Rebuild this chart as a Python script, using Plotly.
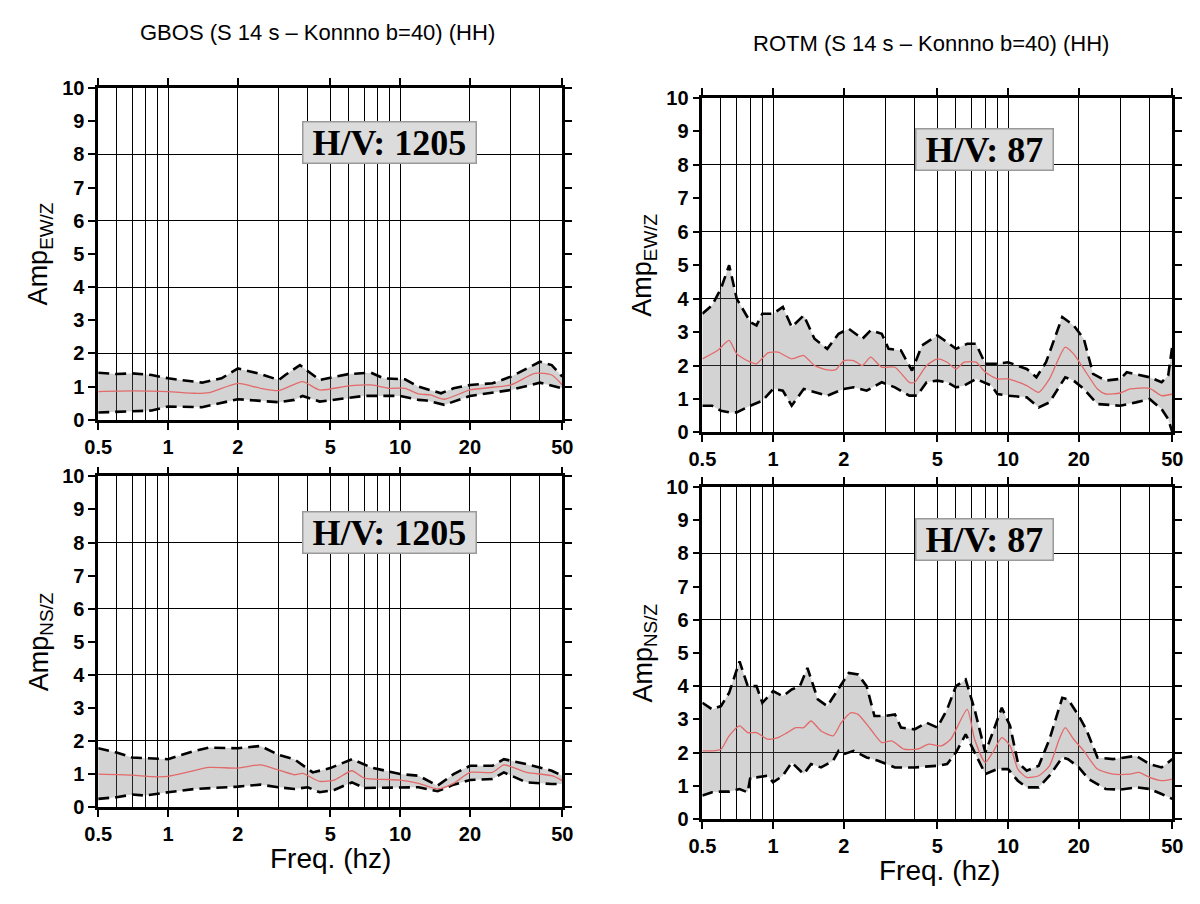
import math
import plotly.graph_objects as go

# ---------------- data ----------------
# GBOS EW/Z
gbos_ew_f_mean = [0.5, 0.7, 1.0, 1.3, 1.5, 2.0, 2.5, 3.0, 3.8, 4.5, 6.0, 7.5, 9.0, 10.5, 12.0, 13.5, 15.5, 20.0, 30.0, 38.0, 45.0, 50.0]
gbos_ew_mean = [0.85, 0.87, 0.85, 0.80, 0.82, 1.10, 0.95, 0.88, 1.15, 0.90, 1.02, 1.05, 0.95, 0.95, 0.78, 0.75, 0.62, 0.90, 1.05, 1.40, 1.35, 1.05]
gbos_ew_f_up = [0.5, 0.6, 0.7, 0.85, 1.0, 1.4, 1.7, 2.0, 2.5, 3.0, 3.2, 3.7, 4.5, 6.0, 7.5, 8.5, 10.5, 12.0, 15.0, 17.0, 20.0, 25.0, 30.0, 40.0, 45.0, 50.0]
gbos_ew_up = [1.42, 1.38, 1.40, 1.35, 1.25, 1.12, 1.25, 1.55, 1.38, 1.20, 1.35, 1.65, 1.20, 1.38, 1.42, 1.25, 1.22, 1.00, 0.80, 0.95, 1.05, 1.10, 1.30, 1.75, 1.65, 1.30]
gbos_ew_f_lo = [0.5, 0.7, 0.85, 1.0, 1.4, 2.0, 2.5, 3.0, 3.5, 3.8, 4.5, 6.0, 7.0, 10.0, 12.0, 13.0, 15.5, 20.0, 30.0, 40.0, 50.0]
gbos_ew_lo = [0.22, 0.25, 0.28, 0.40, 0.38, 0.62, 0.58, 0.53, 0.60, 0.72, 0.55, 0.65, 0.72, 0.72, 0.60, 0.58, 0.45, 0.72, 0.90, 1.12, 0.95]

# GBOS NS/Z
gbos_ns_f_mean = [0.5, 0.7, 0.85, 1.0, 1.2, 1.5, 2.0, 2.5, 3.0, 3.5, 3.8, 4.5, 5.2, 6.2, 7.0, 10.0, 12.0, 14.5, 17.0, 20.0, 25.0, 28.0, 35.0, 45.0, 50.0]
gbos_ns_mean = [1.00, 0.97, 0.92, 0.93, 1.05, 1.20, 1.18, 1.28, 1.12, 0.98, 1.02, 0.78, 0.82, 1.10, 0.88, 0.82, 0.72, 0.55, 0.72, 1.05, 1.05, 1.28, 1.05, 0.95, 0.80]
gbos_ns_f_up = [0.5, 0.6, 0.7, 0.9, 1.0, 1.3, 1.5, 2.0, 2.5, 3.0, 3.5, 4.2, 5.0, 6.2, 7.5, 10.0, 12.0, 14.5, 17.0, 20.0, 25.0, 28.0, 35.0, 45.0, 50.0]
gbos_ns_up = [1.78, 1.65, 1.50, 1.45, 1.45, 1.70, 1.80, 1.78, 1.85, 1.58, 1.45, 1.05, 1.18, 1.45, 1.20, 1.00, 0.95, 0.65, 1.00, 1.25, 1.25, 1.45, 1.30, 1.10, 0.95]
gbos_ns_f_lo = [0.5, 0.6, 0.7, 0.8, 1.0, 1.3, 2.0, 2.5, 3.0, 3.5, 4.0, 4.5, 5.2, 6.2, 7.0, 10.0, 12.0, 14.5, 17.0, 20.0, 25.0, 28.0, 35.0, 45.0, 50.0]
gbos_ns_lo = [0.25, 0.30, 0.38, 0.35, 0.45, 0.55, 0.62, 0.68, 0.60, 0.55, 0.60, 0.45, 0.52, 0.75, 0.58, 0.60, 0.60, 0.48, 0.68, 0.82, 0.85, 1.05, 0.75, 0.70, 0.70]

# ROTM EW/Z
rotm_ew_f_mean = [0.5, 0.58, 0.65, 0.7, 0.8, 0.85, 0.95, 1.05, 1.2, 1.35, 1.5, 1.7, 1.85, 2.0, 2.2, 2.4, 2.6, 2.9, 3.3, 3.8, 4.0, 4.5, 5.0, 5.5, 6.0, 6.5, 7.3, 8.0, 9.0, 10.0, 12.0, 13.5, 15.0, 17.5, 19.0, 21.0, 24.0, 26.0, 30.0, 33.0, 40.0, 45.0, 50.0]
rotm_ew_mean = [2.20, 2.45, 2.75, 2.35, 2.10, 2.05, 2.38, 2.40, 2.20, 2.30, 2.00, 1.87, 1.88, 2.15, 2.15, 2.00, 2.25, 1.95, 1.95, 1.50, 1.50, 2.00, 2.20, 2.10, 1.90, 2.10, 2.10, 1.80, 1.60, 1.60, 1.40, 1.20, 1.60, 2.55, 2.35, 1.90, 1.30, 1.15, 1.18, 1.30, 1.32, 1.10, 1.15]
rotm_ew_f_up = [0.5, 0.55, 0.6, 0.65, 0.7, 0.8, 0.85, 0.9, 1.0, 1.1, 1.2, 1.35, 1.5, 1.7, 1.9, 2.1, 2.4, 2.6, 2.9, 3.1, 3.5, 3.9, 4.3, 5.0, 5.5, 6.0, 6.7, 7.3, 8.0, 9.0, 10.0, 12.0, 13.2, 14.5, 17.0, 19.0, 21.0, 23.0, 26.0, 30.0, 32.0, 40.0, 45.0, 48.0, 50.0]
rotm_ew_up = [3.55, 3.80, 4.30, 5.00, 4.00, 3.30, 3.20, 3.55, 3.55, 3.75, 3.15, 3.50, 2.80, 2.50, 2.95, 3.10, 2.80, 3.05, 2.95, 2.50, 2.45, 1.85, 2.60, 2.90, 2.70, 2.50, 2.65, 2.65, 2.05, 2.05, 2.10, 1.90, 1.65, 2.10, 3.45, 3.20, 2.80, 1.75, 1.55, 1.60, 1.80, 1.65, 1.50, 1.70, 2.60]
rotm_ew_f_lo = [0.5, 0.55, 0.6, 0.65, 0.7, 0.8, 0.9, 1.0, 1.1, 1.2, 1.35, 1.5, 1.7, 2.0, 2.2, 2.5, 2.9, 3.3, 3.8, 4.1, 4.5, 5.0, 5.5, 6.0, 6.5, 7.3, 8.5, 9.0, 10.0, 12.0, 13.5, 15.0, 17.5, 19.0, 21.0, 24.0, 30.0, 35.0, 40.0, 45.0, 48.0, 50.0]
rotm_ew_lo = [0.80, 0.80, 0.65, 0.60, 0.60, 0.80, 0.95, 1.30, 1.25, 0.80, 1.30, 1.20, 1.10, 1.30, 1.35, 1.25, 1.50, 1.35, 1.10, 1.10, 1.50, 1.55, 1.50, 1.35, 1.40, 1.60, 1.40, 1.15, 1.10, 1.05, 0.75, 0.90, 1.65, 1.55, 1.30, 0.85, 0.80, 0.90, 1.00, 0.70, 0.40, 0.00]

# ROTM NS/Z
rotm_ns_f_mean = [0.5, 0.55, 0.6, 0.65, 0.72, 0.78, 0.85, 0.95, 1.05, 1.15, 1.25, 1.35, 1.45, 1.6, 1.8, 1.95, 2.15, 2.3, 2.6, 2.9, 3.2, 3.6, 4.1, 4.6, 5.2, 5.7, 6.7, 7.2, 8.0, 8.6, 9.4, 10.2, 11.0, 12.0, 13.5, 15.0, 16.5, 17.5, 19.0, 21.0, 24.0, 28.0, 33.0, 36.0, 40.0, 45.0, 50.0]
rotm_ns_mean = [2.05, 2.05, 2.10, 2.50, 2.80, 2.60, 2.60, 2.40, 2.45, 2.60, 2.75, 2.75, 2.95, 2.65, 2.50, 2.90, 3.20, 3.15, 2.70, 2.30, 2.35, 2.10, 2.10, 2.25, 2.20, 2.40, 3.30, 2.40, 1.70, 2.00, 2.45, 2.20, 1.50, 1.25, 1.30, 1.60, 2.40, 2.75, 2.40, 2.05, 1.50, 1.35, 1.35, 1.40, 1.25, 1.15, 1.20]
rotm_ns_f_up = [0.5, 0.55, 0.6, 0.65, 0.72, 0.78, 0.85, 0.9, 1.0, 1.1, 1.2, 1.3, 1.4, 1.55, 1.7, 1.85, 2.1, 2.3, 2.5, 2.7, 3.0, 3.3, 3.5, 4.0, 4.5, 5.0, 5.5, 6.0, 6.6, 7.2, 8.0, 8.6, 9.4, 10.2, 11.0, 12.0, 13.5, 15.0, 17.0, 18.0, 20.0, 21.5, 24.0, 28.0, 32.0, 35.0, 40.0, 45.0, 50.0]
rotm_ns_up = [3.50, 3.30, 3.40, 3.80, 4.75, 4.00, 4.00, 3.50, 3.85, 3.70, 3.90, 4.00, 4.55, 3.60, 3.40, 3.80, 4.40, 4.35, 4.00, 3.10, 3.10, 3.15, 2.75, 2.70, 2.90, 2.75, 3.30, 4.00, 4.20, 3.30, 2.00, 2.60, 3.35, 2.80, 1.70, 1.45, 1.60, 2.40, 3.65, 3.60, 3.10, 2.70, 1.85, 1.80, 1.85, 1.90, 1.65, 1.55, 1.80]
rotm_ns_f_lo = [0.5, 0.55, 0.6, 0.65, 0.72, 0.78, 0.8, 0.85, 0.95, 1.0, 1.1, 1.2, 1.35, 1.45, 1.6, 1.8, 1.9, 2.0, 2.2, 2.5, 2.8, 3.3, 4.0, 5.0, 5.5, 6.0, 6.6, 7.2, 8.0, 9.0, 10.0, 11.0, 12.0, 13.5, 15.0, 17.0, 18.0, 20.0, 22.0, 26.0, 30.0, 35.0, 40.0, 45.0, 50.0]
rotm_ns_lo = [0.70, 0.80, 0.82, 0.82, 0.90, 0.80, 1.25, 1.25, 1.30, 1.10, 1.30, 1.70, 1.35, 1.65, 1.55, 1.75, 2.05, 1.95, 2.05, 1.85, 1.75, 1.55, 1.55, 1.60, 1.65, 2.00, 2.55, 2.00, 1.35, 1.50, 1.50, 1.15, 0.95, 0.95, 1.30, 1.85, 1.80, 1.55, 1.20, 0.90, 0.88, 0.95, 0.90, 0.75, 0.60]

x_tick_vals = [0.5, 1, 2, 5, 10, 20, 50]
x_tick_text = ["0.5", "1", "2", "5", "10", "20", "50"]
x_minor_grid = [0.6, 0.7, 0.8, 0.9, 3, 4, 6, 7, 8, 9, 30, 40]
y_tick_vals = list(range(0, 11))
y_grid_vals = [2, 4, 6, 8]

titles = ["GBOS (S 14 s \u2013 Konnno b=40) (HH)", "ROTM (S 14 s \u2013 Konnno b=40) (HH)"]
hv_labels = ["H/V: 1205", "H/V: 1205", "H/V: 87", "H/V: 87"]

# ---------------- figure ----------------
W, H = 1200, 904
fig = go.Figure()

# panel boxes in pixels: (left, right, top, bottom)
panels = [
    (86, 560, 79, 419),    # GBOS EW
    (86, 560, 477, 816),   # GBOS NS
    (703, 1183, 89, 432),  # ROTM EW
    (703, 1183, 488, 828), # ROTM NS
]
data = [
    (gbos_ew_f_up, gbos_ew_up, gbos_ew_f_lo, gbos_ew_lo, gbos_ew_f_mean, gbos_ew_mean),
    (gbos_ns_f_up, gbos_ns_up, gbos_ns_f_lo, gbos_ns_lo, gbos_ns_f_mean, gbos_ns_mean),
    (rotm_ew_f_up, rotm_ew_up, rotm_ew_f_lo, rotm_ew_lo, rotm_ew_f_mean, rotm_ew_mean),
    (rotm_ns_f_up, rotm_ns_up, rotm_ns_f_lo, rotm_ns_lo, rotm_ns_f_mean, rotm_ns_mean),
]

tickfont = dict(family="Liberation Sans, Arial, sans-serif", size=20, color="black", weight="bold")
dash = "11px,6px"

for i, ((l, r, t, b), (fu, up, fl, lo, fm, mn)) in enumerate(zip(panels, data)):
    n = i + 1
    xa = "x" if n == 1 else f"x{n}"
    ya = "y" if n == 1 else f"y{n}"
    gx = f"y{n+4}"
    poly_x = list(fu) + list(fl)[::-1]
    poly_y = list(up) + list(lo)[::-1]
    fig.add_trace(go.Scatter(x=poly_x, y=poly_y, fill="toself", fillcolor="rgba(110,110,110,0.30)",
                             line=dict(width=0), mode="lines", xaxis=xa, yaxis=ya,
                             hoverinfo="skip", showlegend=False))
    fig.add_trace(go.Scatter(x=fu, y=up, mode="lines", line=dict(color="black", width=2.6, dash=dash),
                             xaxis=xa, yaxis=ya, showlegend=False))
    fig.add_trace(go.Scatter(x=fl, y=lo, mode="lines", line=dict(color="black", width=2.6, dash=dash),
                             xaxis=xa, yaxis=ya, showlegend=False))
    fig.add_trace(go.Scatter(x=fm, y=mn, mode="lines", line=dict(color="#e26a6a", width=1.3, shape="spline", smoothing=0.6),
                             xaxis=xa, yaxis=ya, showlegend=False))
    # invisible trace for grid overlay axis
    fig.add_trace(go.Scatter(x=[None], y=[None], mode="lines", xaxis=xa, yaxis=gx,
                             showlegend=False, hoverinfo="skip"))

    xdom = [l / W, r / W]
    ydom = [1 - b / H, 1 - t / H]
    xkey = "xaxis" if n == 1 else f"xaxis{n}"
    ykey = "yaxis" if n == 1 else f"yaxis{n}"
    fig.update_layout(**{
        xkey: dict(type="log", range=[math.log10(0.5), math.log10(50)], domain=xdom, anchor=ya,
                   tickvals=x_tick_vals, ticktext=x_tick_text, ticks="outside", ticklen=7,
                   tickwidth=2, tickcolor="black", showline=True, linewidth=2.5, linecolor="black",
                   mirror="ticks", showgrid=True, gridcolor="black", gridwidth=1,
                   minor=dict(tickvals=x_minor_grid, showgrid=True, gridcolor="black", gridwidth=1, ticks=""),
                   tickfont=tickfont, zeroline=False, fixedrange=True),
        ykey: dict(range=[0, 10], domain=ydom, anchor=xa, tickvals=y_tick_vals,
                   ticks="outside", ticklen=7, tickwidth=2, tickcolor="black",
                   showline=True, linewidth=2.5, linecolor="black", mirror="ticks",
                   showgrid=False, zeroline=False, tickfont=tickfont, fixedrange=True),
        f"yaxis{n+4}": dict(range=[0, 10], overlaying=ya, anchor=xa, tickvals=y_grid_vals,
                            showgrid=True, gridcolor="black", gridwidth=1, showticklabels=False,
                            ticks="", showline=False, zeroline=False, fixedrange=True),
    })


def ann(text, px, py, size, family="Liberation Sans, Arial", **kw):
    d = dict(text=text, x=px / W, y=1 - py / H, xref="paper", yref="paper", showarrow=False,
             xanchor="center", yanchor="middle",
             font=dict(family=family, size=size, color="black"))
    d.update(kw)
    return d


annotations = []
# column titles
annotations.append(ann(titles[0], 310, 22, 22))
annotations.append(ann(titles[1], 936, 33, 22))
# H/V boxes
hv_pos = [(383, 135), (383, 534), (991, 142), (991, 542)]
for (px, py), txt in zip(hv_pos, hv_labels):
    annotations.append(ann(f"\u00a0<b>{txt}</b>\u00a0", px, py, 36,
                           family="Liberation Serif, Times New Roman, serif",
                           bgcolor="#dcdcdc", bordercolor="#9a9a9a", borderwidth=1.5, borderpad=0))
# y-axis titles
ylabels = ["Amp<sub>EW/Z</sub>", "Amp<sub>NS/Z</sub>", "Amp<sub>EW/Z</sub>", "Amp<sub>NS/Z</sub>"]
ylab_x = [27, 27, 644, 644]
for (l, r, t, b), lab, lx in zip(panels, ylabels, ylab_x):
    annotations.append(ann(lab, lx, (t + b) / 2, 27, textangle=-90))
# x-axis titles
annotations.append(ann("Freq. (hz)", 323, 869, 28))
annotations.append(ann("Freq. (hz)", 945, 881, 28))

fig.update_layout(width=W, height=H, margin=dict(l=0, r=0, t=0, b=0), paper_bgcolor="white",
                  plot_bgcolor="white", showlegend=False, annotations=annotations)

fig.write_html("out.html",
               post_script="document.body.style.margin='0';document.body.style.overflow='hidden';")
